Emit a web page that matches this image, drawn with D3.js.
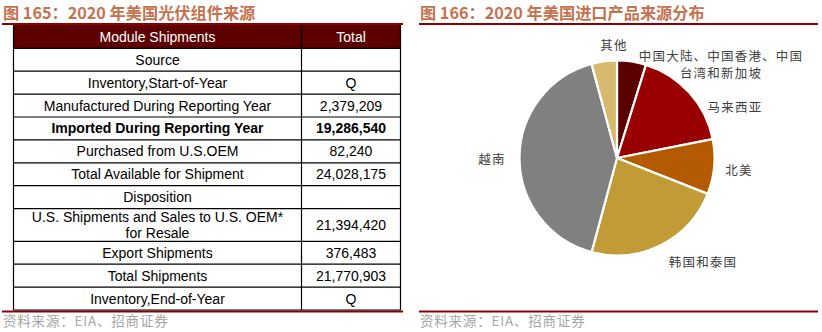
<!DOCTYPE html>
<html>
<head>
<meta charset="utf-8">
<script src="https://cdn.jsdelivr.net/npm/d3@7"></script>
<style>
  html, body { margin: 0; padding: 0; background: #fff; }
  svg { display: block; }
</style>
</head>
<body>
<svg id="chart" width="822" height="332"></svg>
<script>
// ---- Table: 2020 US PV module sources ----
const tableHeader = ["Module Shipments", "Total"];
const rowLabels = [
  ["Source"],
  ["Inventory,Start-of-Year"],
  ["Manufactured During Reporting Year"],
  ["Imported During Reporting Year"],
  ["Purchased from U.S.OEM"],
  ["Total Available for Shipment"],
  ["Disposition"],
  ["U.S. Shipments and Sales to U.S. OEM*", "for Resale"],
  ["Export Shipments"],
  ["Total Shipments"],
  ["Inventory,End-of-Year"]
];
const rowTotals = ["", "Q", "2,379,209", "19,286,540", "82,240", "24,028,175",
                   "", "21,394,420", "376,483", "21,770,903", "Q"];
const boldRows = ["Imported During Reporting Year"];

// ---- Pie: 2020 US import sources ----
const regions = ["中国大陆、中国香港、中国台湾和新加坡", "马来西亚", "北美", "韩国和泰国", "越南", "其他"];
const shares = [4.8, 17.1, 9.1, 23.2, 41.6, 4.2];
const regionLabelLines = [
  ["中国大陆、中国香港、中国", "台湾和新加坡"],
  ["马来西亚"],
  ["北美"],
  ["韩国和泰国"],
  ["越南"],
  ["其他"]
];
const sliceColors = ["#5a0000", "#990000", "#b45a00", "#c19b36", "#808080", "#d5b96c"];

const titles = ["图 165：2020 年美国光伏组件来源", "图 166：2020 年美国进口产品来源分布"];
const sourceNote = "资料来源：EIA、招商证券";

const svg = d3.select("#chart");
const titleColor = "#c5724f";
const ruleColor = "#8c0000";
const cjkFont = "'Noto Sans CJK SC', 'Noto Sans', sans-serif";

// Panel frames: title, rules, source note
const panels = [{x0: 2, x1: 403}, {x0: 419, x1: 818}];
panels.forEach((p, i) => {
  svg.append("text")
    .attr("x", p.x0 + 1).attr("y", 18.5)
    .attr("font-family", "'Noto Sans CJK SC', sans-serif")
    .attr("font-weight", 700).attr("font-size", 16.2)
    .attr("fill", titleColor)
    .text(titles[i]);
  svg.append("line")
    .attr("x1", p.x0).attr("x2", p.x1).attr("y1", 24).attr("y2", 24)
    .attr("stroke", ruleColor).attr("stroke-width", 2);
  svg.append("line")
    .attr("x1", p.x0).attr("x2", p.x1).attr("y1", 311.5).attr("y2", 311.5)
    .attr("stroke", ruleColor).attr("stroke-width", 2);
  svg.append("text")
    .attr("x", p.x0 + 1).attr("y", 325.5)
    .attr("font-family", cjkFont)
    .attr("font-size", 13.5).attr("letter-spacing", 0.8)
    .attr("fill", "#a6a6a6")
    .text(sourceNote);
});

// ---- Table ----
const tLeft = 13.5, tSplit = 301.5, tRight = 400.5;
const headerTop = 25, headerBottom = 48.3;
const rowH = 22.9, tallH = 32.7;
const heights = rowLabels.map(l => l.length > 1 ? tallH : rowH);
const yEdges = [headerBottom];
heights.forEach(h => yEdges.push(yEdges[yEdges.length - 1] + h));

const table = svg.append("g")
  .attr("font-family", "'Liberation Sans', Arial, sans-serif")
  .attr("font-size", 14);

table.append("rect")
  .attr("x", tLeft).attr("y", headerTop)
  .attr("width", tRight - tLeft).attr("height", headerBottom - headerTop)
  .attr("fill", "#5c0000");
table.selectAll("text.hdr").data(tableHeader).join("text")
  .attr("class", "hdr")
  .attr("x", (d, i) => i === 0 ? (tLeft + tSplit) / 2 : (tSplit + tRight) / 2)
  .attr("y", (headerTop + headerBottom) / 2 + 5)
  .attr("text-anchor", "middle").attr("fill", "#fff")
  .text(d => d);

const rows = table.selectAll("g.row").data(rowLabels).join("g").attr("class", "row");
rows.each(function(lines, i) {
  const g = d3.select(this);
  const yTop = yEdges[i], yBot = yEdges[i + 1], yMid = (yTop + yBot) / 2;
  const bold = boldRows.includes(lines.join(" "));
  lines.forEach((ln, k) => {
    g.append("text")
      .attr("x", (tLeft + tSplit) / 2)
      .attr("y", yMid + 5 + (k - (lines.length - 1) / 2) * 16)
      .attr("text-anchor", "middle").attr("fill", "#000")
      .attr("font-weight", bold ? 700 : 400)
      .text(ln);
  });
  g.append("text")
    .attr("x", (tSplit + tRight) / 2).attr("y", yMid + 5)
    .attr("text-anchor", "middle").attr("fill", "#000")
    .attr("font-weight", bold ? 700 : 400)
    .text(rowTotals[i]);
});

// grid lines
const tBottom = yEdges[yEdges.length - 1];
table.selectAll("line.h").data(yEdges).join("line")
  .attr("class", "h")
  .attr("x1", tLeft).attr("x2", tRight)
  .attr("y1", d => d).attr("y2", d => d)
  .attr("stroke", "#000").attr("stroke-width", 1.2);
table.selectAll("line.v").data([tLeft, tSplit, tRight]).join("line")
  .attr("class", "v")
  .attr("x1", d => d).attr("x2", d => d)
  .attr("y1", headerTop).attr("y2", tBottom)
  .attr("stroke", "#000").attr("stroke-width", 1.2);

// ---- Pie ----
const cx = 617, cy = 158, radius = 97.5;
const pie = d3.pie().sort(null).value(d => d);
const arc = d3.arc().innerRadius(0).outerRadius(radius);
const pieG = svg.append("g").attr("transform", `translate(${cx},${cy})`);
pieG.selectAll("path").data(pie(shares)).join("path")
  .attr("d", arc)
  .attr("fill", (d, i) => sliceColors[i])
  .attr("stroke", "#fff").attr("stroke-width", 2.2)
  .attr("stroke-linejoin", "round");

// Label anchors (centre of each label block)
const labelAnchors = [[721, 56], [735, 107], [739, 170], [703, 262], [492, 159], [614, 45]];
const labG = svg.append("g")
  .attr("font-family", cjkFont).attr("font-size", 12.5)
  .attr("letter-spacing", 1.2).attr("fill", "#404040");
regionLabelLines.forEach((lines, i) => {
  const [lx, ly] = labelAnchors[i];
  lines.forEach((ln, k) => {
    labG.append("text")
      .attr("x", lx).attr("y", ly + 4.5 + k * 17.5)
      .attr("text-anchor", "middle")
      .text(ln);
  });
});
</script>
</body>
</html>
